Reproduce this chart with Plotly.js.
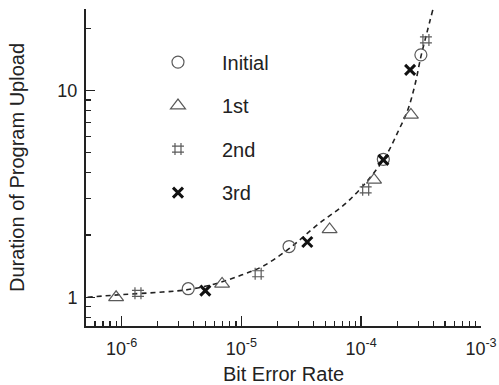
<!DOCTYPE html>
<html>
<head>
<meta charset="utf-8">
<script src="https://cdn.plot.ly/plotly-3.0.1.min.js"></script>
<style>html,body{margin:0;padding:0;background:#fff;}#chart{width:499px;height:385px;}</style>
</head>
<body>
<div id="chart"></div>
<script>
// Data
const initialX = [3.6e-6, 2.5e-5, 1.53e-4, 3.15e-4];
const initialY = [1.10, 1.76, 4.65, 14.9];
const firstX = [9.0e-7, 6.9e-6, 5.45e-5, 1.28e-4, 2.6e-4];
const firstY = [1.0, 1.16, 2.13, 3.70, 7.63];
const secondX = [1.37e-6, 1.38e-5, 1.09e-4, 3.47e-4];
const secondY = [1.045, 1.30, 3.31, 17.6];
const thirdX = [5.0e-6, 3.55e-5, 1.53e-4, 2.56e-4];
const thirdY = [1.077, 1.85, 4.62, 12.6];
const fitX = [5.2e-7, 1e-6, 2.2e-6, 3.6e-6, 6e-6, 1e-5, 1.5e-5, 2.5e-5, 4.3e-5, 8e-5, 1.53e-4, 2.06e-4, 2.45e-4, 2.81e-4, 3.15e-4, 3.53e-4, 3.96e-4];
const fitY = [1.0, 1.03, 1.06, 1.09, 1.16, 1.28, 1.41, 1.72, 2.24, 2.96, 4.62, 6.45, 8.07, 10.66, 14.6, 19.0, 24.6];
const seriesNames = ['Initial', '1st', '2nd', '3rd'];
const xTickVals = [1e-6, 1e-5, 1e-4, 1e-3];
const yTickVals = [1, 10];

const FONT = 'Liberation Sans, Arial, sans-serif';
const gray = '#5a5a5a';

function minorTicks(fromExp, toExp) {
  const out = [];
  for (let e = fromExp; e <= toExp; e++) {
    for (let m = 2; m <= 9; m++) out.push(m * Math.pow(10, e));
  }
  return out;
}

const traces = [
  {x: fitX, y: fitY, mode: 'lines', showlegend: false, hoverinfo: 'skip',
   line: {color: '#222', width: 1.6, dash: '5px,4px', shape: 'spline', smoothing: 1}},
  {x: initialX, y: initialY, name: seriesNames[0], mode: 'markers', legendgroup: 'a',
   marker: {symbol: 'circle-open', size: 12, color: gray, line: {width: 1.2, color: gray}}},
  {x: firstX, y: firstY, name: seriesNames[1], mode: 'markers', legendgroup: 'b',
   marker: {symbol: 'triangle-up-open', size: 13, color: gray, line: {width: 1.2, color: gray}}},
  {x: secondX, y: secondY, name: seriesNames[2], mode: 'markers', legendgroup: 'c',
   marker: {symbol: 'hash-open', size: 12, color: gray, line: {width: 1.2, color: gray}}},
  {x: thirdX, y: thirdY, name: seriesNames[3], mode: 'markers', legendgroup: 'd',
   marker: {symbol: 'x-thin-open', size: 10, color: '#111', line: {width: 3, color: '#111'}}}
];

const layout = {
  width: 499, height: 385,
  margin: {l: 86, r: 18, t: 9, b: 59},
  paper_bgcolor: '#fff', plot_bgcolor: '#fff',
  font: {family: FONT, size: 18, color: '#222'},
  showlegend: true,
  legend: {x: 0.1215, y: 0.894, xanchor: 'left', yanchor: 'top', bgcolor: 'rgba(0,0,0,0)',
    font: {family: FONT, size: 20, color: '#222'}, tracegroupgap: 14.5, itemwidth: 78, traceorder: 'grouped'},
  xaxis: {
    type: 'log', range: [-6.297, -3.0], showgrid: false, zeroline: false,
    showline: true, linecolor: '#222', linewidth: 2, mirror: false,
    ticks: 'inside', ticklen: 10, tickwidth: 1.5, tickcolor: '#222',
    tickmode: 'array', tickvals: xTickVals,
    ticktext: xTickVals.map(v => '10<sup>' + Math.round(Math.log10(v)) + '</sup>'),
    tickfont: {family: FONT, size: 18, color: '#222'}, ticklabelstandoff: 5,
    minor: {tickmode: 'array', tickvals: minorTicks(-7, -4), ticks: 'inside', ticklen: 5, tickwidth: 1.2, tickcolor: '#222', showgrid: false},
    title: {text: 'Bit Error Rate', font: {family: FONT, size: 20, color: '#222'}, standoff: 12}
  },
  yaxis: {
    type: 'log', range: [-0.139, 1.395], showgrid: false, zeroline: false,
    showline: true, linecolor: '#222', linewidth: 2, mirror: false,
    ticks: 'inside', ticklen: 9, tickwidth: 1.5, tickcolor: '#222',
    tickmode: 'array', tickvals: yTickVals, ticktext: yTickVals.map(String),
    tickfont: {family: FONT, size: 18, color: '#222'}, ticklabelstandoff: 3,
    minor: {tickmode: 'array', tickvals: minorTicks(-1, 1), ticks: 'inside', ticklen: 5, tickwidth: 1.2, tickcolor: '#222', showgrid: false},
    title: {text: 'Duration of Program Upload', font: {family: FONT, size: 20, color: '#222'}, standoff: 27}
  }
};

Plotly.newPlot('chart', traces, layout, {staticPlot: true, displayModeBar: false});
</script>
</body>
</html>
